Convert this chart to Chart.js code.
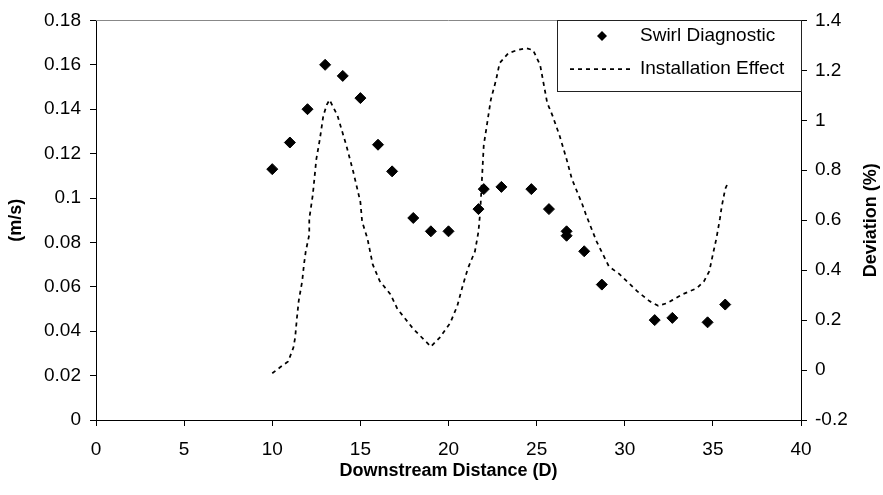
<!DOCTYPE html>
<html>
<head>
<meta charset="utf-8">
<script src="https://cdn.jsdelivr.net/npm/chart.js@4/dist/chart.umd.min.js"></script>
<style>
  body { margin: 0; background: #fff; }
  #chart { display: block; }
</style>
</head>
<body>
<canvas id="chart" width="883" height="495"></canvas>
<script>
// swirl diagnostic (m/s), left axis
const swirlX = [10, 11, 12, 13, 14, 15, 16, 16.8, 18, 19, 20, 21.7, 22, 23, 24.7, 25.7, 26.7, 26.7, 27.7, 28.7, 31.7, 32.7, 34.7, 35.7];
const swirlY = [0.113, 0.125, 0.14, 0.16, 0.155, 0.145, 0.124, 0.112, 0.091, 0.085, 0.085, 0.095, 0.104, 0.105, 0.104, 0.095, 0.085, 0.083, 0.076, 0.061, 0.045, 0.046, 0.044, 0.052];

// installation effect (%), right axis
const effectX = [10, 10.5, 10.9, 11.2, 11.3, 11.4, 11.5, 11.7, 11.8, 11.9, 12.1, 12.1, 12.3, 12.5, 12.7, 12.9, 13.1, 13.25, 13.7, 14.2, 14.6, 15, 15.1, 15.4, 15.7, 16.1, 16.7, 17.1, 18, 19, 19.5, 20.1, 20.5, 20.8, 21.1, 21.5, 21.7, 21.8, 22, 22.2, 22.4, 22.7, 22.9, 23.4, 23.9, 24.4, 24.8, 25.2, 25.6, 25.9, 26.3, 26.7, 27, 27.6, 27.8, 28.4, 29.1, 29.7, 30.7, 31.4, 31.9, 32.4, 32.7, 33.3, 34.1, 34.5, 34.8, 35, 35.2, 35.4, 35.5, 35.7, 35.8];
const effectY = [-0.013, 0.014, 0.034, 0.09, 0.13, 0.209, 0.276, 0.356, 0.423, 0.475, 0.542, 0.606, 0.701, 0.844, 0.924, 1.019, 1.063, 1.082, 1.019, 0.9, 0.793, 0.673, 0.594, 0.527, 0.423, 0.356, 0.304, 0.245, 0.165, 0.094, 0.13, 0.189, 0.257, 0.336, 0.407, 0.475, 0.554, 0.634, 0.9, 0.991, 1.082, 1.162, 1.229, 1.269, 1.281, 1.289, 1.281, 1.221, 1.07, 1.019, 0.939, 0.844, 0.765, 0.662, 0.622, 0.515, 0.415, 0.384, 0.316, 0.276, 0.257, 0.268, 0.28, 0.304, 0.328, 0.356, 0.396, 0.463, 0.527, 0.606, 0.654, 0.725, 0.741];

const legendLabels = ["Swirl Diagnostic", "Installation Effect"];
const axisTitles = ["Downstream Distance (D)", "(m/s)", "Deviation (%)"];

const fontName = "'Liberation Sans', Arial, sans-serif";
const tickFont = { family: fontName, size: 19 };
const titleFont = { family: fontName, size: 18, weight: "bold" };

const fmt = function (value) {
  return String(Math.round(value * 100) / 100);
};

// plot frame, legend box and right title
const extras = {
  id: "extras",
  beforeDatasetsDraw(chart) {
    const ctx = chart.ctx;
    const a = chart.chartArea;
    ctx.save();
    ctx.strokeStyle = "#888";
    ctx.lineWidth = 1;
    ctx.beginPath();
    ctx.moveTo(a.left, Math.round(a.top) + 0.5);
    ctx.lineTo(a.right, Math.round(a.top) + 0.5);
    ctx.stroke();
    ctx.restore();
  },
  afterDraw(chart) {
    const ctx = chart.ctx;
    const a = chart.chartArea;
    ctx.save();

    // legend
    const lx = 557.5;
    const ly = Math.round(a.top) + 0.5;
    const lw = Math.round(a.right) - 557;
    ctx.fillStyle = "#fff";
    ctx.fillRect(lx, ly, lw, 71);
    ctx.strokeStyle = "#222";
    ctx.lineWidth = 1;
    ctx.strokeRect(lx, ly, lw, 71);

    ctx.fillStyle = "#000";
    ctx.beginPath();
    ctx.moveTo(597, 36);
    ctx.lineTo(602, 31);
    ctx.lineTo(607, 36);
    ctx.lineTo(602, 41);
    ctx.closePath();
    ctx.fill();

    ctx.strokeStyle = "#000";
    ctx.lineWidth = 1.75;
    ctx.setLineDash([4, 4]);
    ctx.beginPath();
    ctx.moveTo(570, 69);
    ctx.lineTo(632, 69);
    ctx.stroke();
    ctx.setLineDash([]);

    ctx.font = "19px " + fontName;
    ctx.textBaseline = "middle";
    ctx.textAlign = "left";
    ctx.fillText(legendLabels[0], 640, 36);
    ctx.fillText(legendLabels[1], 640, 69);

    // right axis title, reading bottom to top
    ctx.font = "bold 18px " + fontName;
    ctx.textAlign = "center";
    ctx.translate(871, (a.top + a.bottom) / 2);
    ctx.rotate(-Math.PI / 2);
    ctx.fillText(axisTitles[2], 0, 0);
    ctx.restore();
  },
};

const swirlPoints = swirlX.map(function (x, i) {
  return { x: x, y: swirlY[i] };
});
const effectPoints = effectX.map(function (x, i) {
  return { x: x, y: effectY[i] };
});

const chart = new Chart(document.getElementById("chart"), {
  type: "scatter",
  data: {
    datasets: [
      {
        label: legendLabels[0],
        data: swirlPoints,
        yAxisID: "y",
        pointStyle: "rectRot",
        pointRadius: 5.5,
        pointBorderWidth: 1,
        backgroundColor: "#000",
        borderColor: "#000",
        showLine: false,
      },
      {
        label: legendLabels[1],
        data: effectPoints,
        yAxisID: "y2",
        showLine: true,
        pointRadius: 0,
        borderColor: "#000",
        borderWidth: 1.75,
        borderDash: [4, 4],
        tension: 0,
      },
    ],
  },
  options: {
    responsive: false,
    animation: false,
    events: [],
    layout: { padding: { top: 17, left: 0, right: 0, bottom: 0 } },
    plugins: {
      legend: { display: false },
      tooltip: { enabled: false },
    },
    scales: {
      x: {
        type: "linear",
        min: 0,
        max: 40,
        afterFit: function (s) {
          s.height = 75;
        },
        ticks: { stepSize: 5, color: "#000", font: tickFont, padding: 12, maxRotation: 0 },
        grid: { drawOnChartArea: false, tickLength: 6, tickColor: "#000" },
        border: { color: "#000" },
        title: { display: true, text: axisTitles[0], color: "#000", font: titleFont, padding: { top: 0, bottom: 13 } },
      },
      y: {
        position: "left",
        min: 0,
        max: 0.18,
        afterFit: function (s) {
          s.width = 96;
        },
        ticks: { stepSize: 0.02, color: "#000", font: tickFont, padding: 9, callback: fmt },
        grid: { drawOnChartArea: false, tickLength: 6, tickColor: "#000" },
        border: { color: "#000" },
        title: { display: true, text: axisTitles[1], color: "#000", font: titleFont, padding: { top: 5, bottom: 0 } },
      },
      y2: {
        position: "right",
        min: -0.2,
        max: 1.4,
        afterFit: function (s) {
          s.width = 82;
        },
        ticks: { stepSize: 0.2, color: "#000", font: tickFont, padding: 8, callback: fmt },
        grid: { drawOnChartArea: false, tickLength: 6, tickColor: "#000" },
        border: { color: "#000" },
      },
    },
  },
  plugins: [extras],
});
</script>
</body>
</html>
